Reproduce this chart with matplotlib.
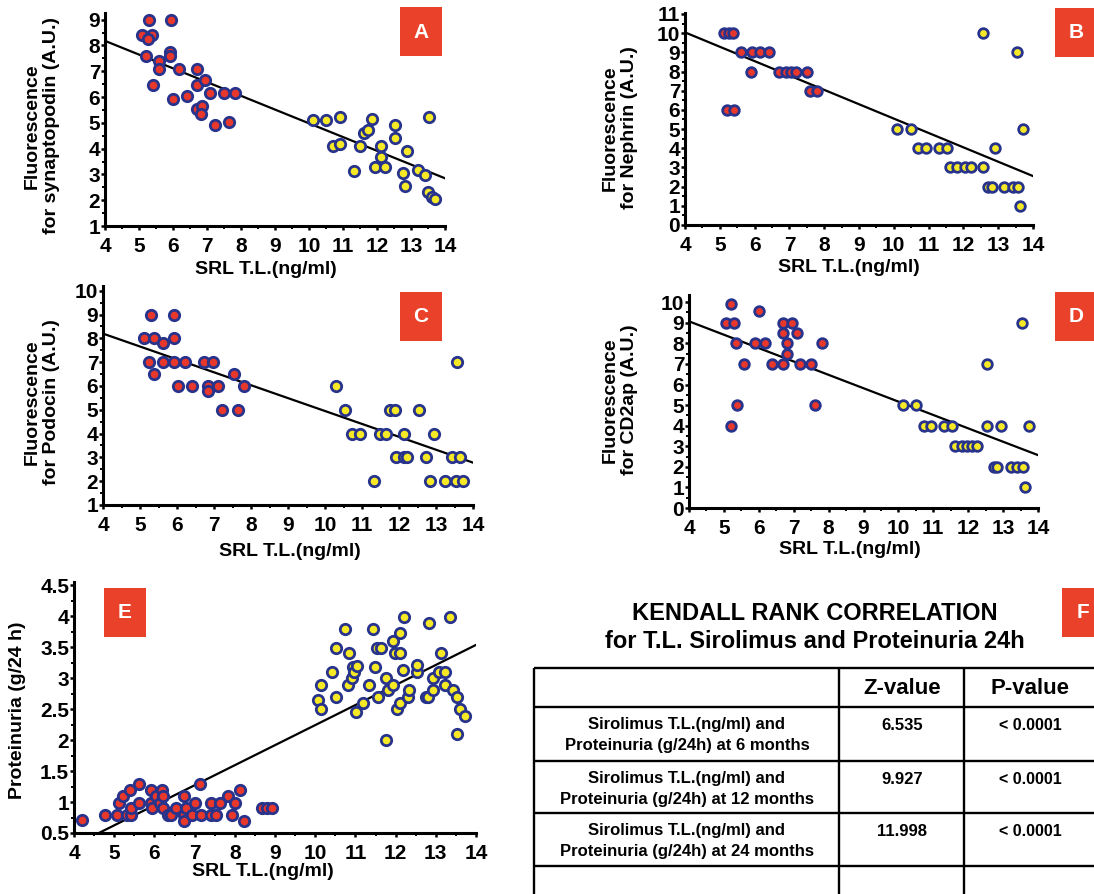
import matplotlib.pyplot as plt
from matplotlib.patches import Rectangle
from matplotlib.ticker import MultipleLocator

plt.rcParams['font.family'] = ['Liberation Sans', 'DejaVu Sans']
plt.rcParams['font.weight'] = 'bold'

# ---- values ----
fit_x = [4, 14]

# A: synaptopodin
a_red_x = [5.3, 5.93, 5.1, 5.39, 5.25, 5.21, 5.59, 5.59, 5.42, 5.91, 5.91, 6.19, 6.0,
           6.4, 6.71, 6.71, 6.93, 7.1, 7.51, 7.81, 6.71, 6.84, 6.81, 7.23, 7.64]
a_red_y = [9.0, 9.0, 8.4, 8.4, 8.25, 7.6, 7.4, 7.1, 6.45, 7.75, 7.6, 7.1, 5.93,
           6.05, 7.1, 6.45, 6.67, 6.15, 6.15, 6.15, 5.55, 5.65, 5.35, 4.92, 5.03]
a_yel_x = [10.12, 10.51, 10.92, 10.70, 10.92, 11.31, 11.50, 11.62, 11.73, 11.85, 11.95, 12.12, 12.12,
           12.24, 12.53, 12.53, 12.75, 12.81, 12.89, 13.22, 13.41, 13.54, 13.51, 13.61, 13.71]
a_yel_y = [5.12, 5.12, 5.22, 4.11, 4.18, 3.15, 4.11, 4.62, 4.73, 5.14, 3.30, 4.11, 3.69,
           3.30, 4.92, 4.43, 3.07, 2.57, 3.89, 3.17, 2.98, 5.22, 2.33, 2.14, 2.04]
a_fit = [8.18, 2.85]

# B: nephrin
b_red_x = [5.13, 5.26, 5.38, 5.20, 5.40, 5.60, 5.92, 6.16, 6.41, 5.90, 6.70, 6.90, 7.05, 7.20, 7.51, 7.60, 7.78]
b_red_y = [10, 10, 10, 6, 6, 9, 9, 9, 9, 8, 8, 8, 8, 8, 8, 7, 7]
b_yel_x = [12.55, 13.55, 10.09, 10.50, 13.71, 10.70, 10.93, 11.29, 11.52, 12.92, 11.62,
           11.81, 12.06, 12.23, 12.55, 12.72, 12.82, 13.18, 13.43, 13.57, 13.63]
b_yel_y = [10, 9, 5, 5, 5, 4, 4, 4, 4, 4, 3, 3, 3, 3, 3, 2, 2, 2, 2, 2, 1]
b_fit = [10.04, 2.55]

# C: podocin
c_red_x = [5.12, 5.39, 5.92, 5.61, 5.30, 5.91, 5.25, 5.61, 5.91, 6.22, 6.73, 6.96, 5.39,
           6.04, 6.40, 6.85, 7.12, 7.81, 6.83, 7.53, 7.21, 7.64]
c_red_y = [8, 8, 8, 7.8, 9, 9, 7, 7, 7, 7, 7, 7, 6.5, 6, 6, 6, 6, 6, 5.8, 6.5, 5, 5]
c_yel_x = [10.30, 10.54, 11.75, 11.89, 12.54, 10.74, 10.94, 11.48, 11.66, 12.13, 12.94, 11.93,
           12.13, 12.22, 12.74, 13.43, 13.64, 11.32, 12.83, 13.24, 13.55, 13.73, 13.57]
c_yel_y = [6, 5, 5, 5, 5, 4, 4, 4, 4, 4, 4, 3, 3, 3, 3, 3, 3, 2, 2, 2, 2, 2, 7]
c_fit = [8.2, 2.78]

# D: CD2ap
d_red_x = [5.21, 5.07, 5.29, 5.36, 5.58, 5.38, 5.21, 6.02, 5.89, 6.19, 6.38, 6.70, 6.94,
           6.70, 7.09, 6.81, 6.81, 6.70, 7.18, 7.50, 7.80, 7.62]
d_red_y = [9.9, 9, 9, 8, 7, 5, 4, 9.55, 8, 8, 7, 9, 9, 8.5, 8.5, 8, 7.5, 7, 7, 7, 8, 5]
d_yel_x = [13.54, 12.54, 10.13, 10.51, 10.72, 10.93, 11.30, 11.54, 12.54, 12.93, 13.74,
           11.63, 11.81, 11.96, 12.10, 12.25, 12.73, 12.83, 13.22, 13.41, 13.56, 13.64]
d_yel_y = [9, 7, 5, 5, 4, 4, 4, 4, 4, 4, 4, 3, 3, 3, 3, 3, 2, 2, 2, 2, 2, 1]
d_fit = [9.07, 2.57]

# E: proteinuria
e_red_x = [4.19, 4.78, 5.08, 5.33, 5.42, 5.11, 5.21, 5.39, 5.42, 5.61, 5.61, 5.92, 5.92, 5.94,
           6.04, 6.13, 6.19, 6.21, 6.21, 6.33, 6.42, 6.54, 6.73, 6.73, 6.73, 6.79, 6.94, 7.00,
           7.13, 7.17, 7.42, 7.42, 7.54, 7.63, 7.82, 7.92, 8.00, 8.13, 8.23, 8.67, 8.79, 8.92]
e_red_y = [0.71, 0.79, 0.79, 0.79, 0.79, 0.99, 1.10, 1.20, 0.90, 1.29, 0.99, 1.19, 0.99, 0.90,
           1.10, 0.99, 1.20, 1.10, 0.90, 0.79, 0.79, 0.90, 1.10, 0.79, 0.70, 0.90, 0.79, 0.99,
           1.29, 0.79, 0.79, 0.99, 0.79, 0.99, 1.10, 0.79, 0.99, 1.20, 0.70, 0.90, 0.90, 0.90]
e_yel_x = [10.08, 10.14, 10.14, 10.43, 10.52, 10.52, 10.74, 10.82, 10.85, 10.91, 10.93, 10.97, 11.05,
           11.02, 11.20, 11.33, 11.43, 11.49, 11.54, 11.55, 11.63, 11.75, 11.75, 11.82, 11.94, 11.94,
           11.98, 12.10, 12.04, 12.10, 12.10, 12.20, 12.19, 12.32, 12.34, 12.52, 12.53, 12.83, 12.76,
           12.81, 12.93, 12.93, 13.12, 13.09, 13.23, 13.23, 13.35, 13.43, 13.53, 13.60, 13.72, 13.53]
e_yel_y = [2.64, 2.50, 2.89, 3.10, 2.70, 3.49, 3.79, 2.89, 3.40, 3.00, 3.18, 3.10, 3.20,
           2.46, 2.59, 2.89, 3.79, 3.18, 3.49, 2.70, 3.49, 2.00, 3.00, 2.81, 2.89, 3.60,
           3.40, 3.40, 2.50, 3.72, 2.60, 3.99, 3.13, 2.70, 2.80, 3.10, 3.21, 3.89, 2.70,
           2.70, 3.00, 2.80, 3.40, 3.10, 3.10, 2.89, 3.99, 2.80, 2.70, 2.50, 2.39, 2.10]
e_fit = [0.30, 3.535]

# F: Kendall table
table_title = ['KENDALL RANK CORRELATION', 'for T.L. Sirolimus and Proteinuria 24h']
table_header = ['Z-value', 'P-value']
table_rows = ['Sirolimus T.L.(ng/ml) and\nProteinuria (g/24h) at 6 months',
              'Sirolimus T.L.(ng/ml) and\nProteinuria (g/24h) at 12 months',
              'Sirolimus T.L.(ng/ml) and\nProteinuria (g/24h) at 24 months']
z_values = ['6.535', '9.927', '11.998']
p_values = ['< 0.0001', '< 0.0001', '< 0.0001']

RED = '#e8372b'
YEL = '#f6e926'
EDGE = '#28338c'
BOXC = '#e9412a'

W, H = 1094, 894
fig = plt.figure(figsize=(W / 100, H / 100), dpi=100)


def px_axes(l, t, r, b):
    return fig.add_axes([l / W, 1 - b / H, (r - l) / W, (b - t) / H])


def panel(box, rx, ry, yx, yy, fit, ylim, yticks, yminor, size):
    ax = px_axes(*box)
    ax.plot(fit_x, fit, color='black', lw=1.6, zorder=2)
    ax.scatter(rx, ry, s=size, c=RED, edgecolors=EDGE, linewidths=2.0, zorder=3, clip_on=False)
    ax.scatter(yx, yy, s=size, c=YEL, edgecolors=EDGE, linewidths=2.0, zorder=3, clip_on=False)
    ax.set_xlim(4, 14)
    ax.set_ylim(*ylim)
    ax.set_xticks(range(4, 15))
    ax.set_yticks(yticks)
    ax.set_yticklabels(['%g' % v for v in yticks])
    ax.xaxis.set_minor_locator(MultipleLocator(0.5))
    ax.yaxis.set_minor_locator(MultipleLocator(yminor))
    for s in ['top', 'right']:
        ax.spines[s].set_visible(False)
    for s in ['left', 'bottom']:
        ax.spines[s].set_linewidth(2.2)
    ax.tick_params(which='major', length=3, width=1.8, labelsize=15)
    ax.tick_params(axis='x', which='major', pad=5)
    ax.tick_params(axis='y', which='major', pad=0.5)
    ax.tick_params(which='minor', length=2, width=1.4)
    ax.patch.set_alpha(0)
    return ax


panel((105, 13, 445, 226), a_red_x, a_red_y, a_yel_x, a_yel_y, a_fit, (1, 9.26), range(1, 10), 0.5, 56)
panel((685, 13, 1033, 225), b_red_x, b_red_y, b_yel_x, b_yel_y, b_fit, (0, 11.05), range(0, 12), 0.5, 48)
panel((103, 286, 473, 505), c_red_x, c_red_y, c_yel_x, c_yel_y, c_fit, (1, 10.2), range(1, 11), 0.5, 56)
panel((689, 295, 1038, 508), d_red_x, d_red_y, d_yel_x, d_yel_y, d_fit, (0, 10.35), range(0, 11), 0.5, 48)
panel((74, 582, 476, 833), e_red_x, e_red_y, e_yel_x, e_yel_y, e_fit, (0.5, 4.55),
      [0.5, 1, 1.5, 2, 2.5, 3, 3.5, 4, 4.5], 0.25, 56)

# overlay in pixel units for labels, letter boxes and the table
ov = fig.add_axes([0, 0, 1, 1])
ov.set_xlim(0, W)
ov.set_ylim(H, 0)
ov.axis('off')
ov.patch.set_alpha(0)

xl = 'SRL T.L.(ng/ml)'
for x, y in [(266, 270), (849, 268), (290, 551), (850, 549), (263, 872)]:
    ov.text(x, y, xl, fontsize=14, ha='center', va='center')

ylabels = [(42, 126, 'Fluorescence\nfor synaptopodin (A.U.)'),
           (620, 128, 'Fluorescence\nfor Nephrin (A.U.)'),
           (42, 402, 'Fluorescence\nfor Podocin (A.U.)'),
           (620, 400, 'Fluorescence\nfor CD2ap (A.U.)'),
           (18, 710, 'Proteinuria (g/24 h)')]
for x, y, s in ylabels:
    ov.text(x, y, s, fontsize=14, ha='center', va='center', rotation=90, linespacing=1.18)

letters = [('A', 400, 7), ('B', 1055, 8), ('C', 400, 292), ('D', 1055, 292), ('E', 104, 588), ('F', 1062, 588)]
for ch, l, t in letters:
    ov.add_patch(Rectangle((l, t), 42, 49, color=BOXC, lw=0))
    ov.text(l + 21, t + 25, ch, fontsize=15, color='white', ha='center', va='center')

# table F
ov.text(815, 613, table_title[0], fontsize=17, ha='center', va='center')
ov.text(815, 642, table_title[1], fontsize=17, ha='center', va='center')
row_lines = [668, 707, 761, 813, 866]
col_lines = [534, 839, 964]
for y in row_lines:
    ov.plot([534, W], [y, y], color='black', lw=1.7, solid_capstyle='butt')
for x in col_lines:
    ov.plot([x, x], [668, H], color='black', lw=1.7, solid_capstyle='butt')
ov.text(902, 688, table_header[0], fontsize=16, ha='center', va='center')
ov.text(1030, 688, table_header[1], fontsize=16, ha='center', va='center')
for i, (lab, z, p) in enumerate(zip(table_rows, z_values, p_values)):
    top = row_lines[i + 1]
    ov.text(687, top + 28, lab, fontsize=12, ha='center', va='center', linespacing=1.45)
    ov.text(902, top + 18, z, fontsize=12, ha='center', va='center')
    ov.text(1030, top + 18, p, fontsize=11.5, ha='center', va='center')

fig.savefig('out.png', dpi=100)
